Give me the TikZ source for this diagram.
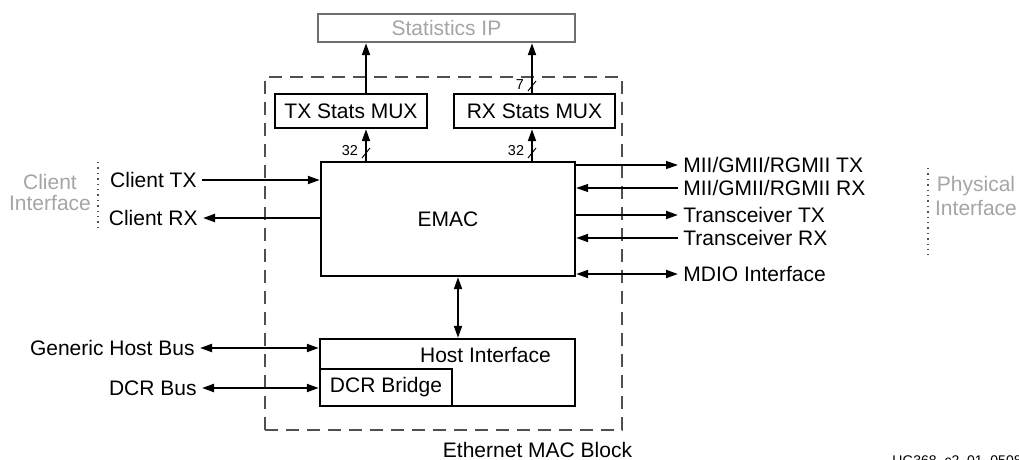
\documentclass[tikz,border=0pt]{standalone}
\usepackage{fontspec}
\setmainfont{Liberation Sans}
\usepackage{tikz}
\usetikzlibrary{arrows.meta}
\usetikzlibrary{positioning}
\definecolor{ipgray}{RGB}{110,110,110}
\definecolor{softgray}{RGB}{165,165,165}
\definecolor{dashgray}{RGB}{80,80,80}
\tikzstyle{block}=[rectangle,draw=black,line width=1.2pt,inner sep=0mm]
\tikzstyle{sig}=[inner sep=2.5pt]
\tikzstyle{arrow}=[-{Triangle[length=6pt,width=4pt]},line width=1pt]
\tikzstyle{biarrow}=[{Triangle[length=6pt,width=4pt]}-{Triangle[length=6pt,width=4pt]},line width=1pt]
\tikzstyle{thinarrow}=[arrow,line width=0.6pt]
\tikzstyle{busmark}=[line width=0.5pt]
\tikzstyle{buswidth}=[font=\fontsize{7.2}{8}\selectfont,inner sep=0pt]
\tikzstyle{divider}=[draw=dashgray,dotted,line width=0.7pt]
\tikzstyle{side}=[align=center,text=softgray]
\tikzset{every picture/.style={
    font=\fontsize{10.5}{12}\selectfont
  }
}

\begin{document}
\begin{tikzpicture}[x=0.5pt,y=-0.5pt]
    \useasboundingbox (0,0) rectangle (1019,460);
    \node[draw=dashgray,dash pattern=on 6.5pt off 4pt,line width=0.7pt,minimum width=178.5pt,minimum height=176.5pt] at (443.5,253.5) (macblk) {};
    \node at (537.5,450) (macname) {Ethernet MAC Block};
    \node[block,draw=ipgray,text=softgray,minimum width=128.5pt,minimum height=14pt] at (446.5,28) (statip) {Statistics IP};
    \node[block,minimum width=76pt,minimum height=17pt] at (351,111) (txmux) {TX Stats MUX};
    \node[block,minimum width=80.5pt,minimum height=17pt] at (534.5,111) (rxmux) {RX Stats MUX};
    \node[block,minimum width=127pt,minimum height=57pt] at (448,219) (emac) {EMAC};
    \node[block,minimum width=127.5pt,minimum height=33.5pt] at (447.5,372.5) (host) {};
    \node at (485.5,355) (hosttxt) {Host Interface};
    \node[block,minimum width=66pt,minimum height=18.5pt] at (386,387.5) (dcr) {DCR Bridge};
    % client side
    \node[sig,anchor=east] at (202,180) (clienttx) {Client TX};
    \node[sig,anchor=east] at (203,218) (clientrx) {Client RX};
    \node[sig,anchor=east] at (200,348) (genbus) {Generic Host Bus};
    \node[sig,anchor=east] at (202,388) (dcrbus) {DCR Bus};
    \draw[arrow] (clienttx.east) -- (emac.west |- clienttx.east);
    \draw[arrow] (emac.west |- clientrx.east) -- (clientrx.east);
    \draw[biarrow] (genbus.east) -- (host.west |- genbus.east);
    \draw[biarrow] (dcrbus.east) -- (dcr.west |- dcrbus.east);
    % physical side
    \node[sig,anchor=west] at (678,165) (miitx) {MII/GMII/RGMII TX};
    \node[sig,anchor=west] at (678,188) (miirx) {MII/GMII/RGMII RX};
    \node[sig,anchor=west] at (678,215) (trtx) {Transceiver TX};
    \node[sig,anchor=west] at (678,238) (trrx) {Transceiver RX};
    \node[sig,anchor=west] at (678,274) (mdio) {MDIO Interface};
    \draw[thinarrow] (emac.east |- miitx.west) -- (miitx.west);
    \draw[thinarrow] (miirx.west) -- (emac.east |- miirx.west);
    \draw[arrow] (emac.east |- trtx.west) -- (trtx.west);
    \draw[arrow] (trrx.west) -- (emac.east |- trrx.west);
    \draw[biarrow] (emac.east |- mdio.west) -- (mdio.west);
    % stats buses
    \coordinate (txbus) at (366,153);
    \coordinate (rxbus) at (532,153);
    \coordinate (rxout) at (532,86);
    \coordinate (hostbus) at (458,300);
    \draw[arrow] (emac.north -| txbus) -- (txmux.south -| txbus);
    \draw[arrow] (emac.north -| rxbus) -- (rxmux.south -| rxbus);
    \draw[arrow] (txmux.north -| txbus) -- (statip.south -| txbus);
    \draw[arrow] (rxmux.north -| rxbus) -- (statip.south -| rxbus);
    \draw[biarrow] (emac.south -| hostbus) -- (host.north -| hostbus);
    \draw[busmark] (txbus) ++(-4,5) -- ++(8,-10);
    \draw[busmark] (rxbus) ++(-4,5) -- ++(8,-10);
    \draw[busmark] (rxout) ++(-4,5) -- ++(8,-10);
    \node[buswidth] at (350,151) (txwidth) {32};
    \node[buswidth] at (516,151) (rxwidth) {32};
    \node[buswidth] at (520,85) (outwidth) {7};
    % interface borders
    \draw[divider] (98,162) -- (98,227);
    \draw[divider] (928,168) -- (928,255);
    \node[side,font=\fontsize{10.5}{10.5}\selectfont] at (50,192) (clientif) {Client\\Interface};
    \node[side,font=\fontsize{10.5}{12}\selectfont] at (976,196) (phyif) {Physical\\Interface};
    \node[anchor=base west,inner sep=0pt,font=\fontsize{7}{8}\selectfont] at (892,466) (figid) {UG368\_c2\_01\_05080};
\end{tikzpicture}
\end{document}
